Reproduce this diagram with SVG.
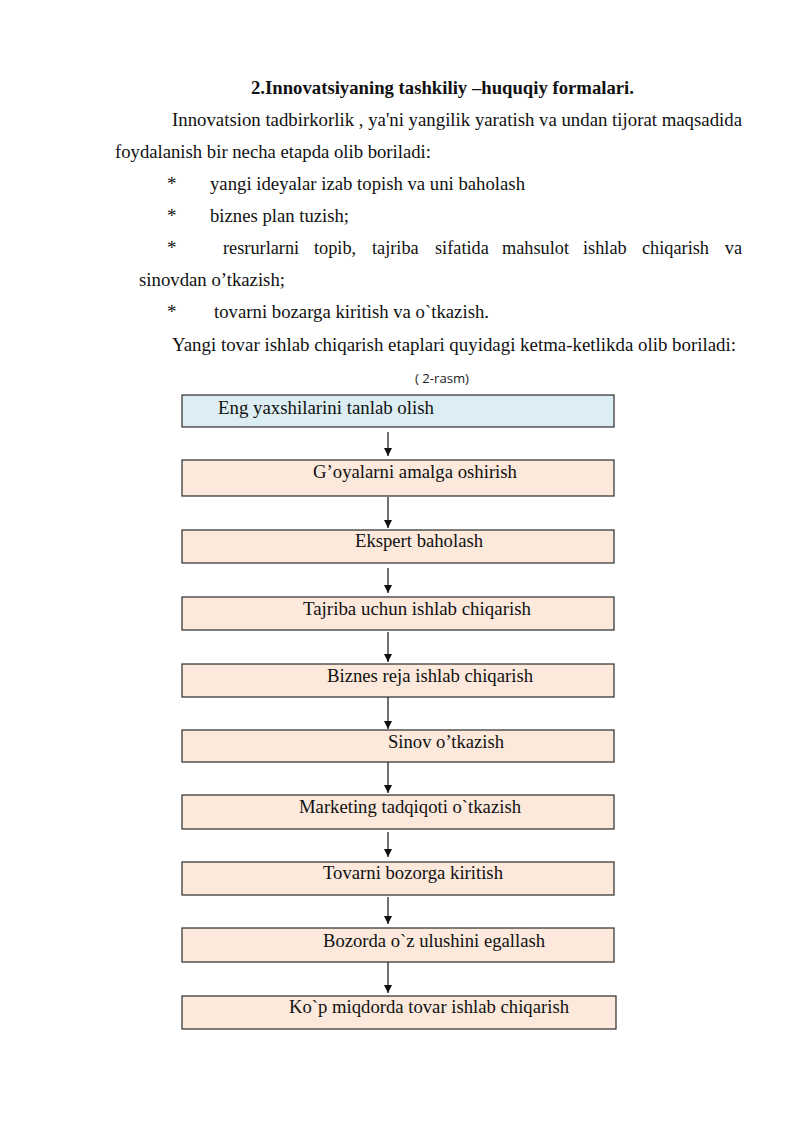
<svg xmlns="http://www.w3.org/2000/svg" width="800" height="1131" viewBox="0 0 800 1131">
<defs>
<style>
.t{font-family:"Liberation Serif","Times New Roman",serif;font-size:19px;fill:#111}
.w{font-family:"Liberation Serif","Times New Roman",serif;font-size:18.3px;fill:#111}
.b{font-weight:bold}
.cap{font-family:"Open Sans","Liberation Sans",sans-serif;font-size:12px;fill:#222}
.box{fill:#fce9dc;stroke:#2b2b2b;stroke-width:1.2}
.blue{fill:#dcedf3}
.bt{font-family:"Liberation Serif","Times New Roman",serif;font-size:19px;fill:#111}
.c{stroke:#111;stroke-width:1.2;fill:none;marker-end:url(#ah)}
</style>
<marker id="ah" viewBox="0 0 8 10" refX="8" refY="5" markerWidth="8" markerHeight="10" markerUnits="userSpaceOnUse" orient="auto">
<path d="M0,1 L8,5 L0,9 z" fill="#111"/>
</marker>
</defs>
<rect width="800" height="1131" fill="#fff"/>
<g id="text">
<text class="t b" x="251" y="94" textLength="383" lengthAdjust="spacingAndGlyphs">2.Innovatsiyaning tashkiliy –huquqiy formalari.</text>
<text class="t" x="172" y="126" textLength="570" lengthAdjust="spacingAndGlyphs">Innovatsion tadbirkorlik , ya'ni yangilik yaratish va undan tijorat maqsadida</text>
<text class="t" x="115" y="158" textLength="316" lengthAdjust="spacingAndGlyphs">foydalanish bir necha etapda olib boriladi:</text>
<text class="t" x="167" y="190">*</text>
<text class="t" x="210" y="190" textLength="315" lengthAdjust="spacingAndGlyphs">yangi ideyalar izab topish va uni baholash</text>
<text class="t" x="167" y="222">*</text>
<text class="t" x="210" y="222" textLength="139" lengthAdjust="spacingAndGlyphs">biznes plan tuzish;</text>
<text class="t" x="167" y="254">*</text>
<text class="w" x="223" y="254">resrurlarni</text>
<text class="w" x="314" y="254">topib,</text>
<text class="w" x="372" y="254">tajriba</text>
<text class="w" x="435" y="254">sifatida</text>
<text class="w" x="502" y="254">mahsulot</text>
<text class="w" x="583" y="254">ishlab</text>
<text class="w" x="642" y="254">chiqarish</text>
<text class="w" x="742" y="254" text-anchor="end">va</text>
<text class="t" x="139" y="286" textLength="146" lengthAdjust="spacingAndGlyphs">sinovdan o’tkazish;</text>
<text class="t" x="167" y="318">*</text>
<text class="t" x="214" y="318" textLength="275" lengthAdjust="spacingAndGlyphs">tovarni bozarga kiritish va o`tkazish.</text>
<text class="t" x="172" y="351" textLength="564" lengthAdjust="spacingAndGlyphs">Yangi tovar ishlab chiqarish etaplari quyidagi ketma-ketlikda olib boriladi:</text>
<text class="cap" x="415" y="383" textLength="54" lengthAdjust="spacingAndGlyphs">( 2-rasm)</text>
</g>
<g id="n1"><rect class="box blue" x="182" y="395" width="432" height="32"/><text class="bt" x="218" y="414" textLength="216" lengthAdjust="spacingAndGlyphs">Eng yaxshilarini tanlab olish</text></g>
<g id="n2"><rect class="box" x="182" y="460" width="432" height="36"/><text class="bt" x="313" y="478" textLength="204" lengthAdjust="spacingAndGlyphs">G’oyalarni amalga oshirish</text></g>
<g id="n3"><rect class="box" x="182" y="530" width="432" height="33"/><text class="bt" x="355" y="547" textLength="128" lengthAdjust="spacingAndGlyphs">Ekspert baholash</text></g>
<g id="n4"><rect class="box" x="182" y="597" width="432" height="33"/><text class="bt" x="303" y="615" textLength="228" lengthAdjust="spacingAndGlyphs">Tajriba uchun ishlab chiqarish</text></g>
<g id="n5"><rect class="box" x="182" y="664" width="432" height="33"/><text class="bt" x="327" y="682" textLength="206" lengthAdjust="spacingAndGlyphs">Biznes reja ishlab chiqarish</text></g>
<g id="n6"><rect class="box" x="182" y="730" width="432" height="32"/><text class="bt" x="388" y="748" textLength="116" lengthAdjust="spacingAndGlyphs">Sinov o’tkazish</text></g>
<g id="n7"><rect class="box" x="182" y="795" width="432" height="34"/><text class="bt" x="299" y="813" textLength="222" lengthAdjust="spacingAndGlyphs">Marketing tadqiqoti o`tkazish</text></g>
<g id="n8"><rect class="box" x="182" y="862" width="432" height="33"/><text class="bt" x="323" y="879" textLength="180" lengthAdjust="spacingAndGlyphs">Tovarni bozorga kiritish</text></g>
<g id="n9"><rect class="box" x="182" y="928" width="432" height="34"/><text class="bt" x="323" y="947" textLength="222" lengthAdjust="spacingAndGlyphs">Bozorda o`z ulushini egallash</text></g>
<g id="n10"><rect class="box" x="182" y="996" width="434" height="33"/><text class="bt" x="289" y="1013" textLength="280" lengthAdjust="spacingAndGlyphs">Ko`p miqdorda tovar ishlab chiqarish</text></g>
<g id="connectors">
<line class="c" x1="388" y1="432" x2="388" y2="456"/>
<line class="c" x1="388" y1="497" x2="388" y2="528"/>
<line class="c" x1="388" y1="568" x2="388" y2="593"/>
<line class="c" x1="388" y1="632" x2="388" y2="662"/>
<line class="c" x1="388" y1="697" x2="388" y2="729"/>
<line class="c" x1="388" y1="762" x2="388" y2="793"/>
<line class="c" x1="388" y1="832" x2="388" y2="857"/>
<line class="c" x1="388" y1="897" x2="388" y2="924"/>
<line class="c" x1="388" y1="962" x2="388" y2="993"/>
</g>
</svg>
